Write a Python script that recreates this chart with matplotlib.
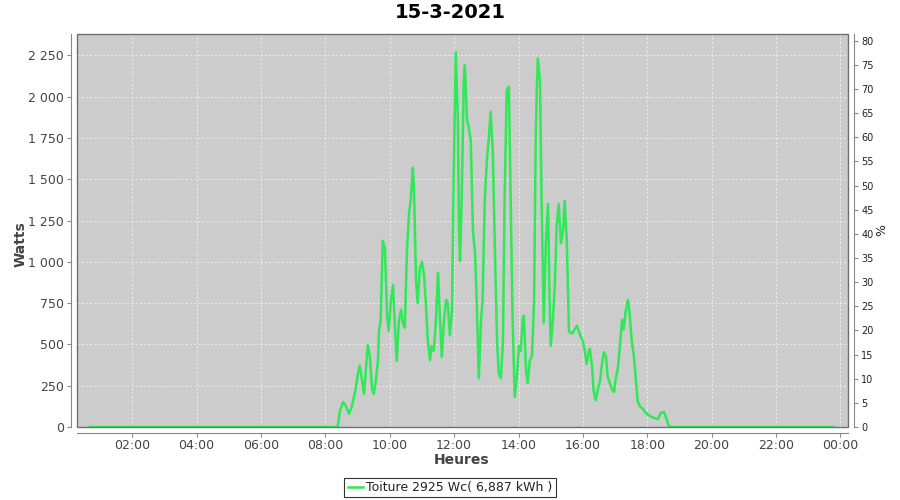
import matplotlib
matplotlib.use("Agg")
import matplotlib.pyplot as plt
from matplotlib.patches import Rectangle
from matplotlib.lines import Line2D
from matplotlib.ticker import FuncFormatter

title = "15-3-2021"
series_label = "Toiture 2925 Wc( 6,887 kWh )"
peak_power_w = 2925

times = ["00:41", "08:23", "08:27", "08:33", "08:38", "08:44", "08:49", "08:55",
         "09:01", "09:04", "09:08", "09:12", "09:15", "09:19", "09:23", "09:27",
         "09:30", "09:34", "09:38", "09:40", "09:43", "09:47", "09:51", "09:55",
         "09:58", "10:02", "10:06", "10:10", "10:13", "10:17", "10:21", "10:24",
         "10:28", "10:32", "10:36", "10:39", "10:43", "10:45", "10:49", "10:52",
         "10:56", "11:00", "11:04", "11:07", "11:11", "11:15", "11:18", "11:22",
         "11:26", "11:30", "11:33", "11:37", "11:41", "11:45", "11:48", "11:52",
         "11:56", "11:59", "12:03", "12:07", "12:09", "12:11", "12:14", "12:18",
         "12:20", "12:24", "12:27", "12:31", "12:35", "12:39", "12:42", "12:46",
         "12:50", "12:53", "12:57", "13:01", "13:05", "13:08", "13:12", "13:16",
         "13:20", "13:23", "13:27", "13:31", "13:34", "13:38", "13:42", "13:46",
         "13:49", "13:53", "13:57", "14:01", "14:04", "14:08", "14:10", "14:14",
         "14:17", "14:21", "14:25", "14:29", "14:32", "14:34", "14:36", "14:40",
         "14:43", "14:47", "14:51", "14:55", "14:58", "15:00", "15:04", "15:08",
         "15:11", "15:15", "15:19", "15:23", "15:26", "15:30", "15:34", "15:37",
         "15:41", "15:45", "15:49", "15:52", "15:56", "16:00", "16:04", "16:07",
         "16:11", "16:13", "16:17", "16:20", "16:24", "16:28", "16:32", "16:35",
         "16:39", "16:43", "16:46", "16:50", "16:54", "16:58", "17:01", "17:05",
         "17:09", "17:13", "17:16", "17:20", "17:24", "17:27", "17:31", "17:35",
         "17:39", "17:42", "17:46", "17:52", "17:57", "18:05", "18:12", "18:20",
         "18:25", "18:31", "18:36", "18:40", "18:44", "23:46"]

watts = [0, 0, 97, 152, 127, 80, 121, 206,
         327, 372, 291, 200, 327, 497, 425, 230,
         200, 279, 400, 582, 643, 1128, 1080, 673,
         582, 764, 860, 582, 400, 643, 710, 631,
         600, 1067, 1298, 1371, 1570, 1462, 885, 750,
         958, 1000, 916, 764, 522, 405, 491, 461,
         643, 934, 704, 425, 643, 770, 752, 555,
         704, 1492, 2270, 1856, 1189, 1005, 1371, 2098,
         2190, 1856, 1820, 1734, 1189, 1055, 764, 295,
         643, 764, 1371, 1613, 1765, 1910, 1674, 1067,
         522, 327, 295, 522, 1371, 2038, 2060, 1249,
         643, 182, 309, 491, 461, 655, 673, 340,
         267, 400, 430, 764, 1734, 2038, 2232, 2098,
         1371, 632, 1128, 1350, 764, 491, 643, 885,
         1219, 1350, 1112, 1189, 1368, 1128, 582, 568,
         570, 594, 613, 582, 546, 522, 449, 382,
         461, 473, 370, 218, 162, 230, 279, 370,
         452, 430, 309, 267, 230, 212, 291, 352,
         491, 650, 590, 704, 770, 691, 522, 430,
         279, 158, 127, 109, 85, 67, 55, 48,
         85, 91, 48, 6, 0, 0]

xticks = [2, 4, 6, 8, 10, 12, 14, 16, 18, 20, 22, 24]
xtick_labels = ["02:00", "04:00", "06:00", "08:00", "10:00", "12:00",
                "14:00", "16:00", "18:00", "20:00", "22:00", "00:00"]
yticks = [0, 250, 500, 750, 1000, 1250, 1500, 1750, 2000, 2250]
pct_ticks = [0, 5, 10, 15, 20, 25, 30, 35, 40, 45, 50, 55, 60, 65, 70, 75, 80]

hours = [int(t[:2]) + int(t[3:]) / 60 for t in times]

W, H = 900, 500
fig = plt.figure(figsize=(9, 5), dpi=100)
fig.patch.set_facecolor("white")
left, right, top, bottom = 77, 848, 34, 427
ax = fig.add_axes([left / W, 1 - bottom / H, (right - left) / W, (bottom - top) / H])
ax.set_facecolor("#cccccc")

line_color = "#30e858"
ax.plot(hours, watts, color=line_color, lw=1.8, solid_joinstyle="round", zorder=3)

ymax = 2380
ax.set_xlim(0.283, 24.236)
ax.set_ylim(0, ymax)
ax.set_xticks(xticks)
ax.set_xticklabels(xtick_labels)
ax.set_yticks(yticks)
ax.yaxis.set_major_formatter(FuncFormatter(lambda v, p: f"{int(v):,}".replace(",", " ")))
ax.grid(True, color="#f2f2f2", lw=0.6, linestyle=(0, (2.5, 2.5)))
ax.set_axisbelow(True)

edge = "#888888"
for s in ["top", "right"]:
    ax.spines[s].set_visible(False)
for s in ["left", "bottom"]:
    ax.spines[s].set_position(("outward", 4))
    ax.spines[s].set_color(edge)
ax.add_patch(Rectangle((0, 0), 1, 1, transform=ax.transAxes, fill=False,
                       edgecolor="#707070", lw=1.0, clip_on=False, zorder=5))
ax.tick_params(direction="out", length=3, color=edge, labelcolor="#444444",
               labelsize=9, width=0.8)
ax.tick_params(axis="x", pad=1.5)
ax.tick_params(axis="y", pad=2.5)

ax2 = ax.twinx()
ax2.set_ylim(0, ymax / peak_power_w * 100)
ax2.set_yticks(pct_ticks)
for s in ["top", "left", "bottom"]:
    ax2.spines[s].set_visible(False)
ax2.spines["right"].set_position(("outward", 4))
ax2.spines["right"].set_color(edge)
ax2.tick_params(direction="out", length=3, color=edge, labelcolor="#222222",
                labelsize=7, width=0.8, pad=2.5)

fig.text(450 / W, 1 - 13 / H, title, ha="center", va="center",
         fontsize=14, fontweight="bold", color="#000000")
fig.text(462 / W, 1 - 460 / H, "Heures", ha="center", va="center",
         fontsize=10, fontweight="bold", color="#444444")
fig.text(21 / W, 1 - 244 / H, "Watts", ha="center", va="center", rotation=90,
         fontsize=10, fontweight="bold", color="#444444")
fig.text(882 / W, 1 - 230 / H, "%", ha="center", va="center", rotation=90,
         fontsize=9, color="#222222")

handle = Line2D([], [], color=line_color, lw=1.8)
leg = fig.legend([handle], [series_label], loc="center",
                 bbox_to_anchor=(450 / W, 1 - 487.5 / H), frameon=True,
                 fancybox=False, fontsize=9, handlelength=1.2, handletextpad=0.3,
                 borderpad=0.25, borderaxespad=0)
leg.get_frame().set_edgecolor("#000000")
leg.get_frame().set_linewidth(0.8)
for t in leg.get_texts():
    t.set_color("#222222")

fig.savefig("out.png", dpi=100, facecolor="white")
